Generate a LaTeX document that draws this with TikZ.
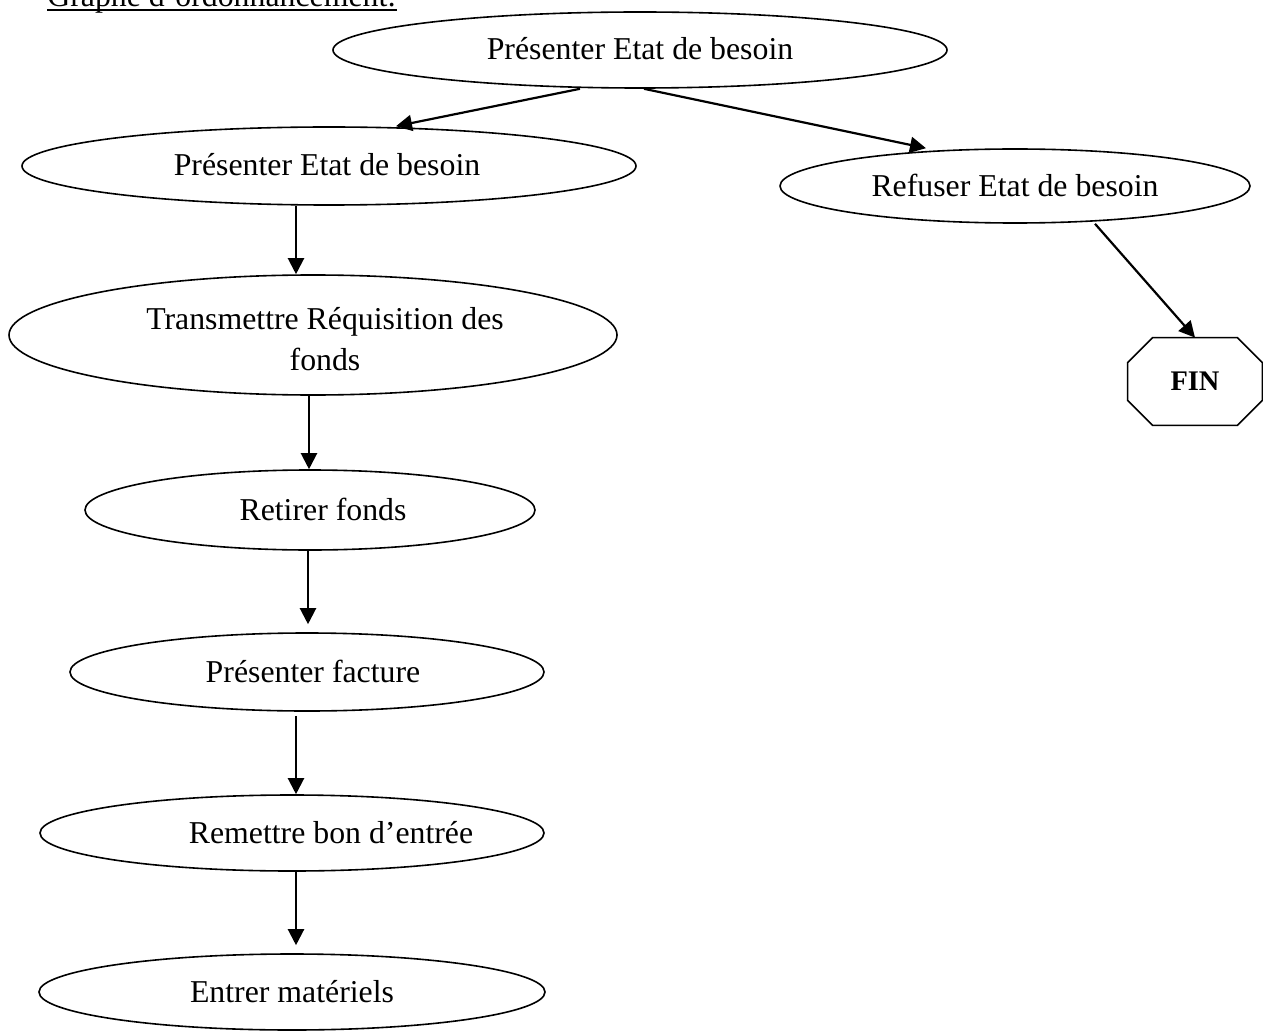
\documentclass[tikz,border=0pt]{standalone}
\usepackage{fontspec}
\setmainfont{Liberation Serif}
\usetikzlibrary{arrows.meta,shapes.geometric}
\begin{document}
\begin{tikzpicture}[x=0.5pt,y=-0.5pt,
  % ellipse of a step: #1 = half width, #2 = half height (in drawing units)
  stepshape/.style 2 args={draw,ellipse,line width=0.8pt,inner sep=0pt,
    minimum width=#1*1pt,minimum height=#2*1pt},
  lbl/.style={font=\fontsize{15.9}{20.5}\selectfont,align=center,inner sep=0pt,anchor=base},
  arr/.style={-{Triangle[length=8pt,width=8pt]},line width=1.1pt},
  outline/.style={line width=0.8pt},
]
\useasboundingbox (0,0) rectangle (1263,1032);
\clip (0,0) rectangle (1263,1032);

% heading
\node[lbl,anchor=base west] (title) at (47,6.5) {Graphe d’ordonnancement:};
\draw[line width=1pt] ([yshift=-2pt]title.base west) -- ([yshift=-2pt]title.base east);

% steps (labels placed by the baseline of their last line)
\node[stepshape={307}{38}] (s1) at (640,50) {};
\node[lbl] (t1) at (640,60) {Présenter Etat de besoin};

\node[stepshape={307}{39}] (s2) at (329,166) {};
\node[lbl] (t2) at (327,176) {Présenter Etat de besoin};

\node[stepshape={235}{37}] (s3) at (1015,186) {};
\node[lbl] (t3) at (1015,197) {Refuser Etat de besoin};

\node[stepshape={304}{60}] (s4) at (313,335) {};
\node[lbl] (t4) at (325,370) {Transmettre Réquisition des\\fonds};

\node[stepshape={225}{40}] (s5) at (310,510) {};
\node[lbl] (t5) at (323,520) {Retirer fonds};

\node[stepshape={237}{39}] (s6) at (307,672) {};
\node[lbl] (t6) at (313,682) {Présenter facture};

\node[stepshape={252}{38}] (s7) at (292,833) {};
\node[lbl] (t7) at (331,843) {Remettre bon d’entrée};

\node[stepshape={253}{38}] (s8) at (292,992) {};
\node[lbl] (t8) at (292,1002) {Entrer matériels};

% end marker: octagon around the label
\node[minimum width=67pt,minimum height=43.5pt,inner sep=0pt,
  font=\fontsize{14.2}{16}\selectfont\bfseries] (fin) at (1195,381.5) {FIN};
\draw[outline] ([xshift=12.5pt]fin.north west) -- ([xshift=-12.5pt]fin.north east)
  -- ([yshift=-12.5pt]fin.north east) -- ([yshift=12.5pt]fin.south east)
  -- ([xshift=-12.5pt]fin.south east) -- ([xshift=12.5pt]fin.south west)
  -- ([yshift=12.5pt]fin.south west) -- ([yshift=-12.5pt]fin.north west) -- cycle;

% connectors
\draw[arr] (s1.south -| 580,0) -- (s2.north -| 396,0);
\draw[arr] (s1.south -| 644,0) -- (s3.north -| 926,0);
\draw[arr] (s2.south -| 296,0) -- (s4.north -| 296,0);
\draw[arr] (s4.south -| 309,0) -- (s5.north -| 309,0);
\draw[arr,shorten >=4pt] (s5.south -| 308,0) -- (s6.north -| 308,0);
\draw[arr,shorten <=2pt] (s6.south -| 296,0) -- (s7.north -| 296,0);
\draw[arr,shorten >=4pt] (s7.south -| 296,0) -- (s8.north -| 296,0);
\draw[arr] (s3.south -| 1095,0) -- (fin.north);
\end{tikzpicture}
\end{document}
